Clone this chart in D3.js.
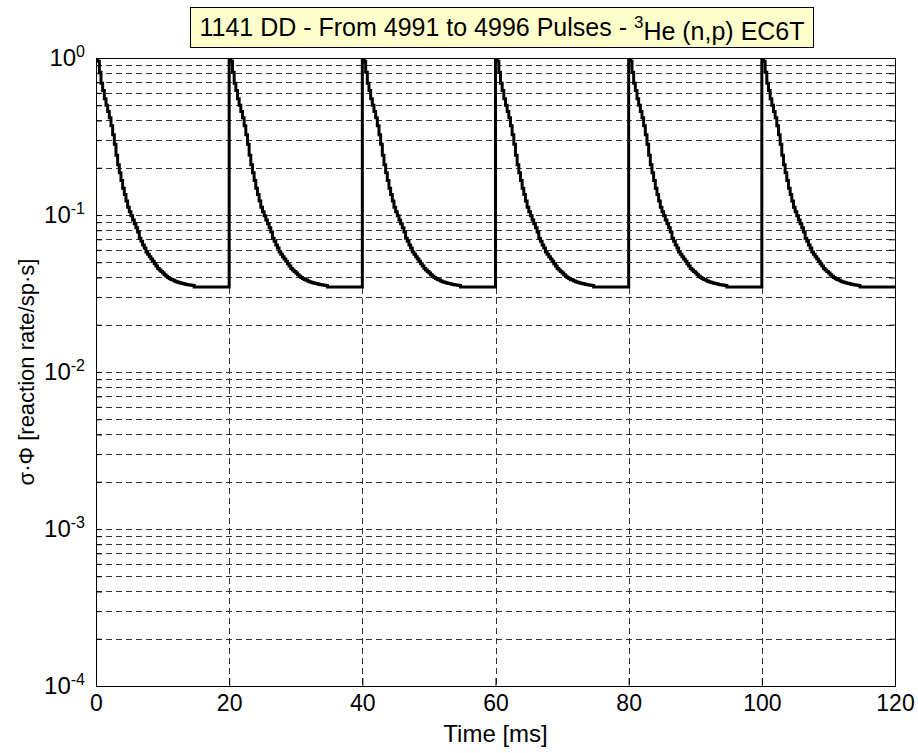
<!DOCTYPE html>
<html lang="en">
<head>
<meta charset="UTF-8">
<title>1141 DD - From 4991 to 4996 Pulses</title>
<style>
  body { margin: 0; background: #fff; }
  text { font-family: Arial, "Liberation Sans", sans-serif; }
</style>
</head>
<body>
<svg id="chart" width="918" height="753"></svg>
<script src="https://d3js.org/d3.v7.min.js"></script>
<script>
// pulse start times [ms]
var pulseStarts = [0, 20, 40, 60, 80, 100];
// bin width of the stepped curve [ms]
var binWidth = 0.25;
// reaction rate in each 0.25 ms bin after a pulse
var pulseValues = [
  0.99, 0.955, 0.81, 0.69, 0.62, 0.55, 0.50, 0.457, 0.417, 0.37,
  0.324, 0.282, 0.24, 0.209, 0.186, 0.166, 0.148, 0.135, 0.123, 0.112,
  0.105, 0.099, 0.093, 0.088, 0.083, 0.078, 0.071, 0.068, 0.0645, 0.0617,
  0.0582, 0.0562, 0.0543, 0.0525, 0.0507, 0.049, 0.0473, 0.0457, 0.0447, 0.0437,
  0.0427, 0.0417, 0.0407, 0.040, 0.0394, 0.0389, 0.0385, 0.038, 0.0376, 0.0373,
  0.037, 0.0367, 0.0366, 0.0363, 0.0361, 0.036, 0.0358, 0.0357, 0.0356, 0.0348,
  0.0348, 0.0348, 0.0348, 0.0348, 0.0348, 0.0348, 0.0348, 0.0348, 0.0348, 0.0348,
  0.0348, 0.0348, 0.0348, 0.0348, 0.0348, 0.0348, 0.0348, 0.0348, 0.0348, 0.0348
];
var xTicks = [0, 20, 40, 60, 80, 100, 120];
var yExponents = [0, -1, -2, -3, -4];
var titleText = "1141 DD - From 4991 to 4996 Pulses - ";

var margin = { top: 58, right: 23, bottom: 67, left: 96 },
    width = 918 - margin.left - margin.right,
    height = 753 - margin.top - margin.bottom;

var svg = d3.select("#chart");
var g = svg.append("g")
    .attr("transform", "translate(" + margin.left + "," + margin.top + ")");

var x = d3.scaleLinear().domain([0, 120]).range([0, width]);
var y = d3.scaleLog().domain([1e-4, 1]).range([height, 0]);

// grid values: 1..9 x 10^e
var gridVals = [];
yExponents.forEach(function(e) {
  for (var k = 1; k < 10; k++) {
    var v = k * Math.pow(10, e);
    if (v > 1e-4 && v < 1) gridVals.push(v);
  }
});

// horizontal dashed grid
g.selectAll(".hgrid").data(gridVals).enter().append("line")
  .attr("class", "hgrid")
  .attr("x1", 0).attr("x2", width)
  .attr("y1", function(d) { return Math.round(y(d)) + 0.5; })
  .attr("y2", function(d) { return Math.round(y(d)) + 0.5; })
  .attr("stroke", "#333").attr("stroke-width", 1)
  .attr("stroke-dasharray", "6,4");

// vertical dashed grid
g.selectAll(".vgrid").data(xTicks.slice(1, -1)).enter().append("line")
  .attr("class", "vgrid")
  .attr("x1", function(d) { return Math.round(x(d)) + 0.5; })
  .attr("x2", function(d) { return Math.round(x(d)) + 0.5; })
  .attr("y1", 0).attr("y2", height)
  .attr("stroke", "#333").attr("stroke-width", 1)
  .attr("stroke-dasharray", "6,4");

// x axis (ticks inward, bottom and top)
var xAxis = g.append("g")
  .attr("transform", "translate(0," + height + ")")
  .call(d3.axisBottom(x).tickValues(xTicks).tickSize(-8).tickPadding(9));
xAxis.select(".domain").remove();
xAxis.selectAll("text").style("font-size", "23px").attr("fill", "#000");
g.append("g")
  .call(d3.axisTop(x).tickValues(xTicks).tickSize(-8).tickFormat(""))
  .select(".domain").remove();

// y axis ticks (inward, both sides)
var yl = g.append("g").call(d3.axisLeft(y).tickValues(gridVals.concat([1, 1e-4])).tickSize(-6).tickFormat(""));
yl.select(".domain").remove();
var yr = g.append("g").attr("transform", "translate(" + width + ",0)")
  .call(d3.axisRight(y).tickValues(gridVals.concat([1, 1e-4])).tickSize(-6).tickFormat(""));
yr.select(".domain").remove();

// y tick labels 10^e
var yLab = g.selectAll(".ylab").data(yExponents).enter().append("text")
  .attr("class", "ylab")
  .attr("x", -11)
  .attr("y", function(d) { return y(Math.pow(10, d)); })
  .attr("dy", "0.35em")
  .attr("text-anchor", "end")
  .style("font-size", "24px");
yLab.append("tspan").text("10");
yLab.append("tspan").attr("dy", "-0.6em").style("font-size", "16px")
  .text(function(d) { return d === 0 ? "0" : "-" + Math.abs(d); });

// curve
var pts = [];
pulseStarts.forEach(function(s) {
  pulseValues.forEach(function(v, i) { pts.push([s + i * binWidth, v]); });
});
pts.push([120, pulseValues[pulseValues.length - 1]]);

g.append("clipPath").attr("id", "clip").append("rect")
  .attr("x", -2).attr("y", 0).attr("width", width + 4).attr("height", height);

g.append("path")
  .datum(pts)
  .attr("clip-path", "url(#clip)")
  .attr("fill", "none")
  .attr("stroke", "#000")
  .attr("stroke-width", 3)
  .attr("d", d3.line()
    .x(function(d) { return x(d[0]); })
    .y(function(d) { return y(d[1]); })
    .curve(d3.curveStepAfter));

// box
g.append("rect")
  .attr("x", 0.5).attr("y", 0.5).attr("width", width).attr("height", height)
  .attr("fill", "none").attr("stroke", "#000").attr("stroke-width", 1);

// axis labels
g.append("text")
  .attr("x", width / 2).attr("y", height + 56)
  .attr("text-anchor", "middle")
  .style("font-size", "24px")
  .text("Time [ms]");

g.append("text")
  .attr("transform", "translate(" + (-62) + "," + (height / 2) + ") rotate(-90)")
  .attr("text-anchor", "middle")
  .style("font-size", "22px")
  .text("\u03c3\u00b7\u03a6 [reaction rate/sp\u00b7s]");

// title in a yellow box
var tg = svg.append("g");
var tBox = tg.append("rect");
var tText = tg.append("text")
  .attr("x", 502).attr("y", 36)
  .attr("text-anchor", "middle")
  .style("font-size", "25px");
tText.append("tspan").text(titleText);
tText.append("tspan").attr("dy", "-0.5em").style("font-size", "17px").text("3");
tText.append("tspan").attr("dy", "0.5em").text("He (n,p) EC6T");
var bb = tText.node().getBBox();
tBox.attr("x", Math.round(bb.x - 9) + 0.5).attr("y", 7.5)
  .attr("width", Math.round(bb.width + 18)).attr("height", 40)
  .attr("fill", "#ffffcc").attr("stroke", "#000").attr("stroke-width", 1);
</script>
</body>
</html>
